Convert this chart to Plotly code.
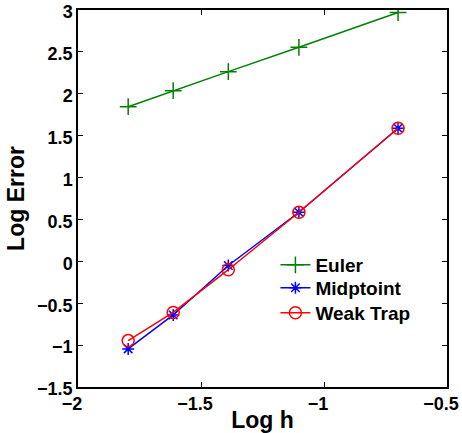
import plotly.graph_objects as go

log_h = [-1.796, -1.613, -1.389, -1.102, -0.699]
euler = [1.846, 2.037, 2.264, 2.555, 2.97]
midpoint = [-1.045, -0.64, -0.05, 0.586, 1.588]
weak_trap = [-0.946, -0.61, -0.10, 0.586, 1.588]

FONT = "Liberation Sans"
LEG_FONT = dict(family=FONT, size=19, color="black", weight="bold")

fig = go.Figure()
fig.add_trace(go.Scatter(x=log_h, y=euler, name="Euler", mode="lines+markers",
                         legend="legend",
                         line=dict(color="#008000", width=1.5),
                         marker=dict(symbol="cross-thin-open", size=12,
                                     line=dict(color="#008000", width=1.5))))
fig.add_trace(go.Scatter(x=log_h, y=midpoint, name="Midptoint", mode="lines+markers",
                         legend="legend2",
                         line=dict(color="#0000ff", width=1.5),
                         marker=dict(symbol="asterisk-open", size=10,
                                     line=dict(color="#0000ff", width=1.5))))
fig.add_trace(go.Scatter(x=log_h, y=weak_trap, name="Weak Trap", mode="lines+markers",
                         legend="legend3",
                         line=dict(color="#ff0000", width=1.5),
                         marker=dict(symbol="circle-open", size=12,
                                     line=dict(color="#ff0000", width=1.5))))

axis_common = dict(showline=True, linecolor="black", linewidth=1.5, mirror="ticks",
                   ticks="inside", ticklen=5, tickcolor="black", tickwidth=1,
                   showgrid=False, zeroline=False, automargin=False,
                   ticklabeloverflow="allow",
                   tickfont=dict(family=FONT, size=18, color="black", weight="bold"))

fig.update_xaxes(range=[-2, -0.5], tickvals=[-2, -1.5, -1, -0.5],
                 ticktext=["\u22122", "\u22121.5", "\u22121", "\u22120.5"],
                 ticklabelshift=-6,
                 title=dict(text="Log h", standoff=2,
                            font=dict(family=FONT, size=23, color="black", weight="bold")),
                 **axis_common)
fig.update_yaxes(range=[-1.5, 3],
                 tickvals=[-1.5, -1, -0.5, 0, 0.5, 1, 1.5, 2, 2.5, 3],
                 ticktext=["\u22121.5", "\u22121", "\u22120.5", "0", "0.5", "1", "1.5", "2", "2.5", "3"],
                 ticklabelshift=2,
                 title=dict(text="Log Error", standoff=6,
                            font=dict(family=FONT, size=23, color="black", weight="bold")),
                 **axis_common)

leg_common = dict(x=0.535, xanchor="left", yanchor="middle",
                  bgcolor="rgba(255,255,255,0)", itemwidth=30, font=LEG_FONT)

fig.update_layout(width=462, height=433, margin=dict(l=78, r=15, t=10, b=46),
                  plot_bgcolor="white", paper_bgcolor="white",
                  legend=dict(y=0.3237, **leg_common),
                  legend2=dict(y=0.2628, **leg_common),
                  legend3=dict(y=0.1967, **leg_common),
                  showlegend=True)

fig.write_html("out.html", config={"displayModeBar": False},
               post_script="document.body.style.margin='0';document.body.style.overflow='hidden';")
